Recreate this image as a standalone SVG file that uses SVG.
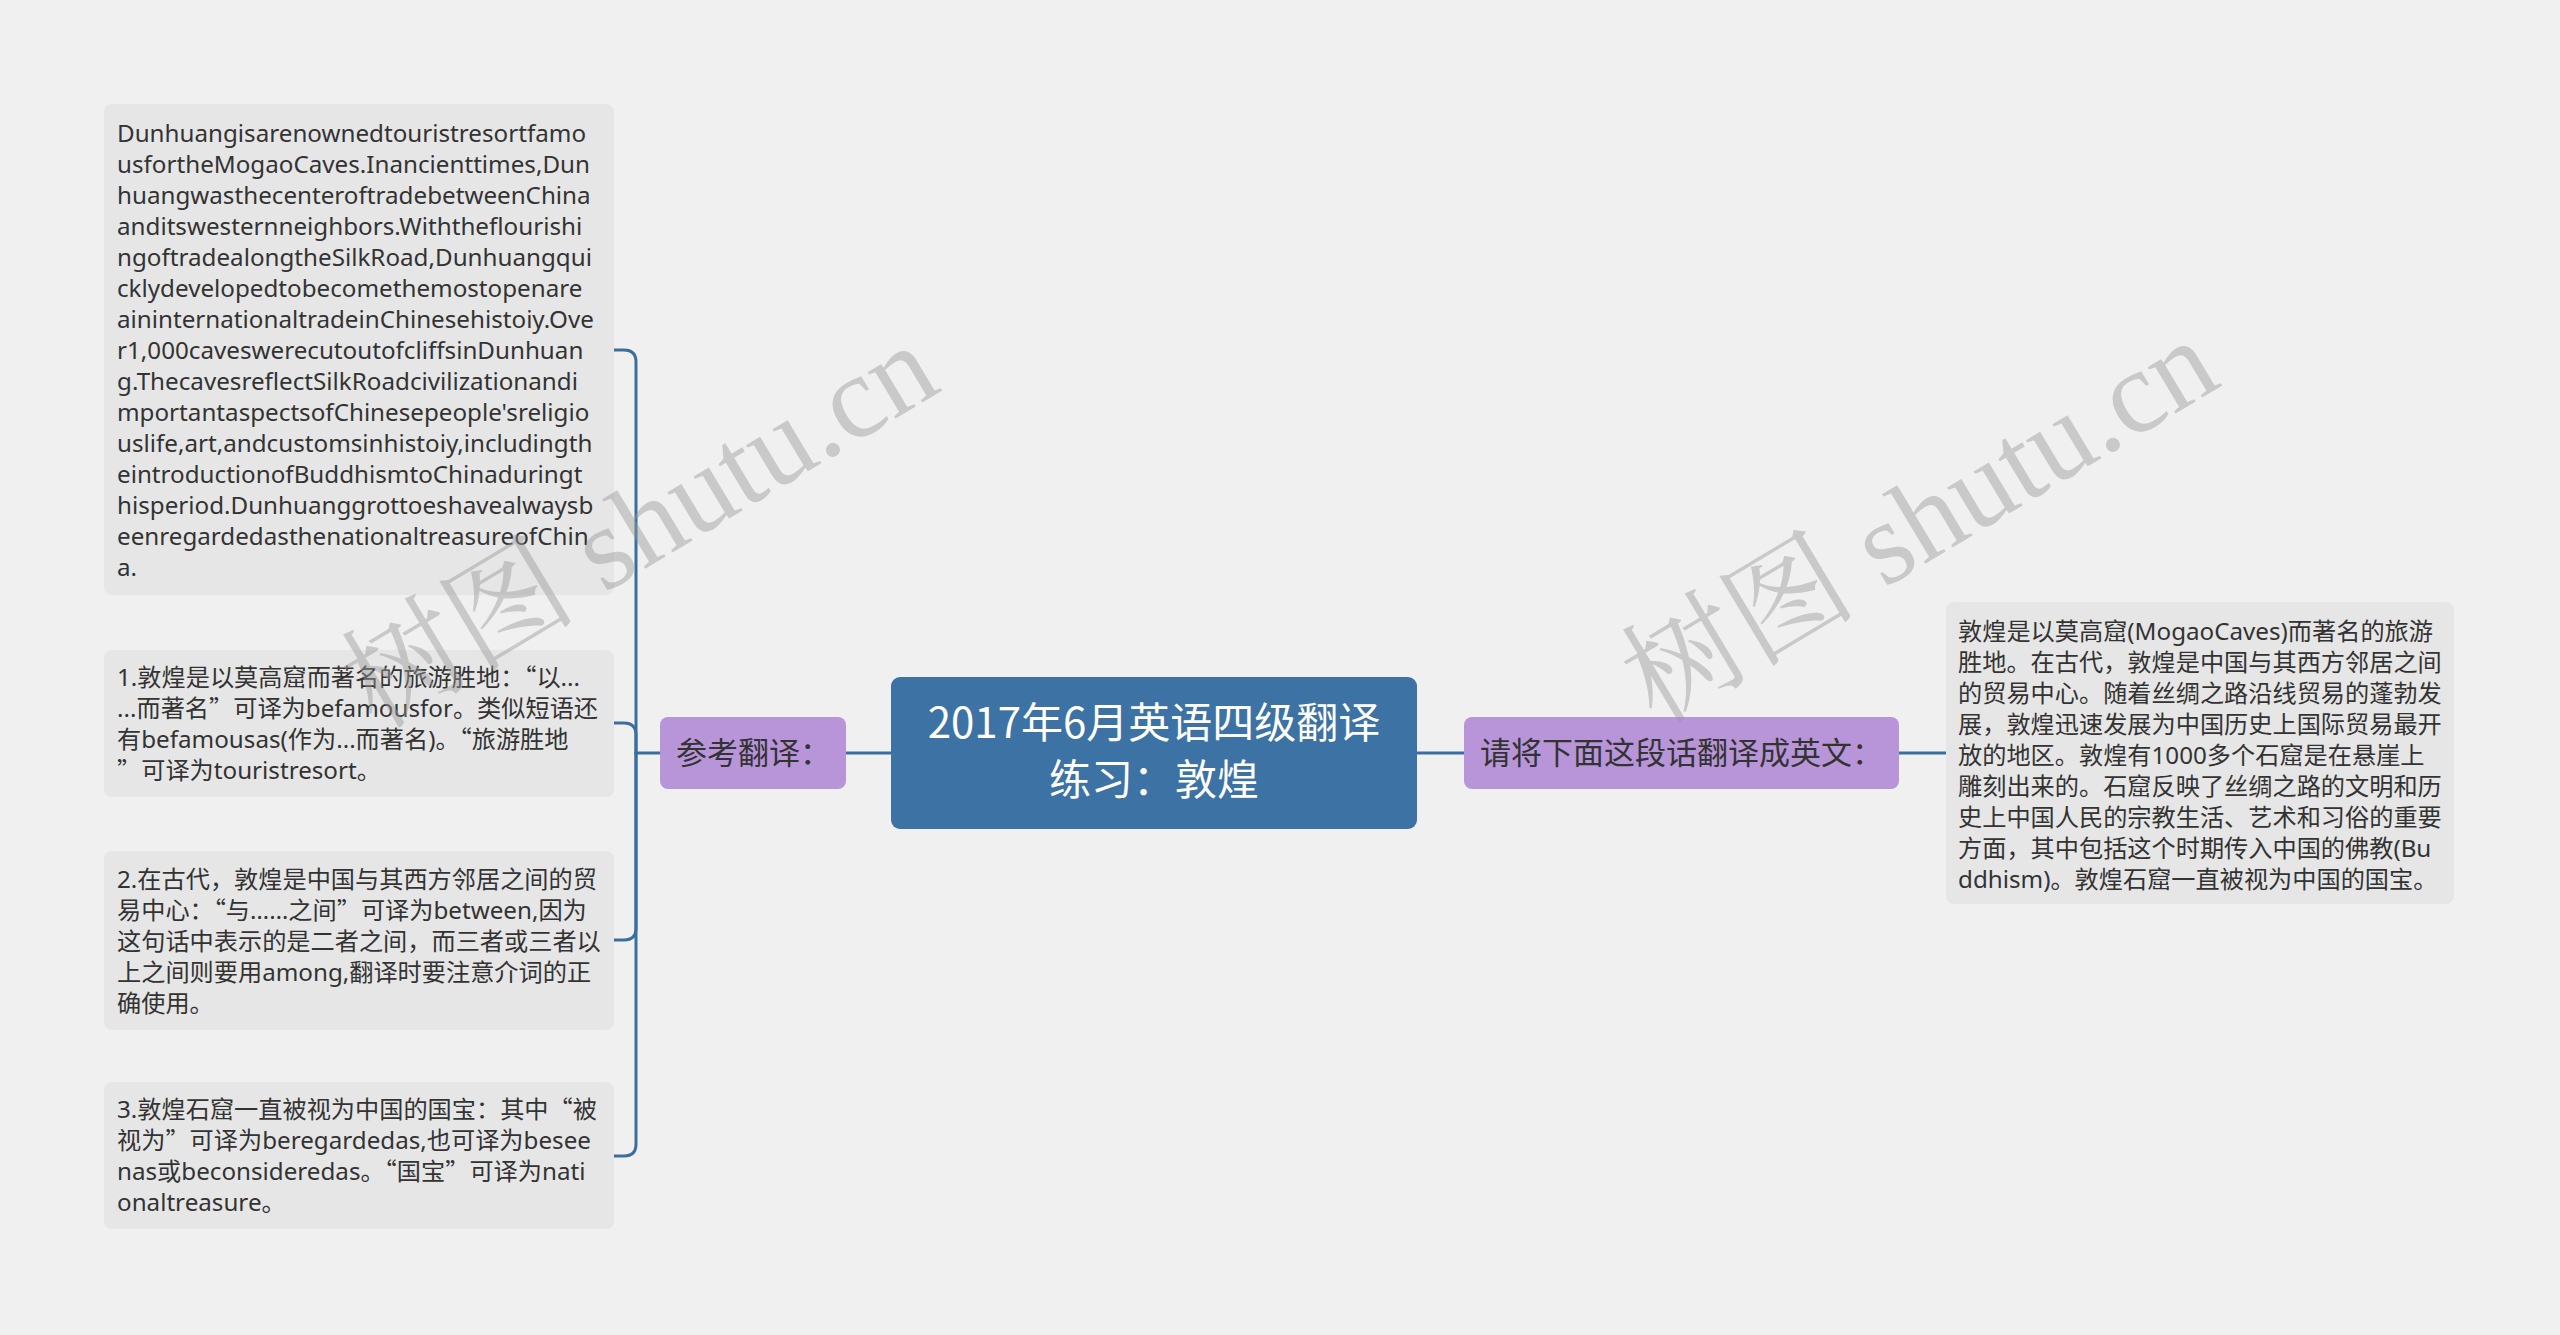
<svg xmlns="http://www.w3.org/2000/svg" width="2560" height="1335" viewBox="0 0 2560 1335">
<style>
.bg{fill:#f0f0f0}
.leaf{fill:#e6e6e6}
.sub{fill:#b895d9}
.root{fill:#3d72a4}
.t{font-family:"Noto Sans","Noto Sans CJK SC",sans-serif;font-size:24.2px;fill:#333333}
.q{font-family:"Noto Sans CJK SC",sans-serif}
.ts{font-family:"Noto Sans CJK SC","Noto Sans",sans-serif;font-size:31px;fill:#333333}
.tr{font-family:"Noto Sans CJK SC","Noto Sans",sans-serif;font-size:42px;fill:#ffffff;text-anchor:middle}
.wm{font-family:"Liberation Serif","Noto Serif CJK SC","Noto Sans CJK SC",serif;font-size:118px;fill:#9a9a9a;fill-opacity:0.45;text-anchor:middle}
.c{fill:none;stroke:#3a6e9e;stroke-width:3;stroke-linecap:round}
</style>
<rect class="bg" x="0" y="0" width="2560" height="1335"/>
<g id="connectors">
<path class="c" d="M660,753 H636"/>
<path class="c" d="M636,753 V362 Q636,350 624,350 H614"/>
<path class="c" d="M636,753 V735 Q636,723 624,723 H614"/>
<path class="c" d="M636,753 V928 Q636,940 624,940 H614"/>
<path class="c" d="M636,753 V1144 Q636,1156 624,1156 H614"/>
<path class="c" d="M846,753 H891"/>
<path class="c" d="M1417,753 H1464"/>
<path class="c" d="M1899,753 H1946"/>
</g>
<g id="root">
<rect class="root" x="891" y="677" width="526" height="152" rx="9"/>
<text class="tr" x="1154" y="738">2017年6月英语四级翻译</text>
<text class="tr" x="1154" y="795">练习：敦煌</text>
</g>
<g id="ref">
<rect class="sub" x="660" y="717" width="186" height="72" rx="8"/>
<text class="ts" x="676" y="764">参考翻译：</text>
</g>
<g id="ask">
<rect class="sub" x="1464" y="717" width="435" height="72" rx="8"/>
<text class="ts" x="1480" y="764">请将下面这段话翻译成英文：</text>
</g>
<g id="english">
<rect class="leaf" x="104" y="104" width="510" height="491" rx="8"/>
<text class="t">
<tspan x="117" y="141.5">Dunhuangisarenownedtouristresortfamo</tspan>
<tspan x="117" y="172.5">usfortheMogaoCaves.Inancienttimes,Dun</tspan>
<tspan x="117" y="203.5">huangwasthecenteroftradebetweenChina</tspan>
<tspan x="117" y="234.5">anditswesternneighbors.Withtheflourishi</tspan>
<tspan x="117" y="265.5">ngoftradealongtheSilkRoad,Dunhuangqui</tspan>
<tspan x="117" y="296.5">cklydevelopedtobecomethemostopenare</tspan>
<tspan x="117" y="327.5">aininternationaltradeinChinesehistoiy.Ove</tspan>
<tspan x="117" y="358.5">r1,000caveswerecutoutofcliffsinDunhuan</tspan>
<tspan x="117" y="389.5">g.ThecavesreflectSilkRoadcivilizationandi</tspan>
<tspan x="117" y="420.5">mportantaspectsofChinesepeople'sreligio</tspan>
<tspan x="117" y="451.5">uslife,art,andcustomsinhistoiy,includingth</tspan>
<tspan x="117" y="482.5">eintroductionofBuddhismtoChinaduringt</tspan>
<tspan x="117" y="513.5">hisperiod.Dunhuanggrottoeshavealwaysb</tspan>
<tspan x="117" y="544.5">eenregardedasthenationaltreasureofChin</tspan>
<tspan x="117" y="575.5">a.</tspan>
</text>
</g>
<g id="note1">
<rect class="leaf" x="104" y="650" width="510" height="147" rx="8"/>
<text class="t">
<tspan x="117" y="686">1.敦煌是以莫高窟而著名的旅游胜地：<tspan class="q">“</tspan>以...</tspan>
<tspan x="117" y="717">...而著名<tspan class="q">”</tspan>可译为befamousfor。类似短语还</tspan>
<tspan x="117" y="748">有befamousas(作为...而著名)。<tspan class="q">“</tspan>旅游胜地</tspan>
<tspan x="117" y="779"><tspan class="q">”</tspan>可译为touristresort。</tspan>
</text>
</g>
<g id="note2">
<rect class="leaf" x="104" y="851" width="510" height="179" rx="8"/>
<text class="t">
<tspan x="117" y="888">2.在古代，敦煌是中国与其西方邻居之间的贸</tspan>
<tspan x="117" y="919">易中心：<tspan class="q">“</tspan>与……之间<tspan class="q">”</tspan>可译为between,因为</tspan>
<tspan x="117" y="950">这句话中表示的是二者之间，而三者或三者以</tspan>
<tspan x="117" y="981">上之间则要用among,翻译时要注意介词的正</tspan>
<tspan x="117" y="1012">确使用。</tspan>
</text>
</g>
<g id="note3">
<rect class="leaf" x="104" y="1082" width="510" height="147" rx="8"/>
<text class="t">
<tspan x="117" y="1118">3.敦煌石窟一直被视为中国的国宝：其中<tspan class="q">“</tspan>被</tspan>
<tspan x="117" y="1149">视为<tspan class="q">”</tspan>可译为beregardedas,也可译为besee</tspan>
<tspan x="117" y="1180">nas或beconsideredas。<tspan class="q">“</tspan>国宝<tspan class="q">”</tspan>可译为nati</tspan>
<tspan x="117" y="1211">onaltreasure。</tspan>
</text>
</g>
<g id="chinese">
<rect class="leaf" x="1946" y="602" width="508" height="302" rx="8"/>
<text class="t">
<tspan x="1958" y="640">敦煌是以莫高窟(MogaoCaves)而著名的旅游</tspan>
<tspan x="1958" y="671">胜地。在古代，敦煌是中国与其西方邻居之间</tspan>
<tspan x="1958" y="702">的贸易中心。随着丝绸之路沿线贸易的蓬勃发</tspan>
<tspan x="1958" y="733">展，敦煌迅速发展为中国历史上国际贸易最开</tspan>
<tspan x="1958" y="764">放的地区。敦煌有1000多个石窟是在悬崖上</tspan>
<tspan x="1958" y="795">雕刻出来的。石窟反映了丝绸之路的文明和历</tspan>
<tspan x="1958" y="826">史上中国人民的宗教生活、艺术和习俗的重要</tspan>
<tspan x="1958" y="857">方面，其中包括这个时期传入中国的佛教(Bu</tspan>
<tspan x="1958" y="888">ddhism)。敦煌石窟一直被视为中国的国宝。</tspan>
</text>
</g>
<g id="watermarks">
<text class="wm" transform="translate(660,560) rotate(-31)">树图 shutu.cn</text>
<text class="wm" transform="translate(1940,555) rotate(-31)">树图 shutu.cn</text>
</g>
</svg>
